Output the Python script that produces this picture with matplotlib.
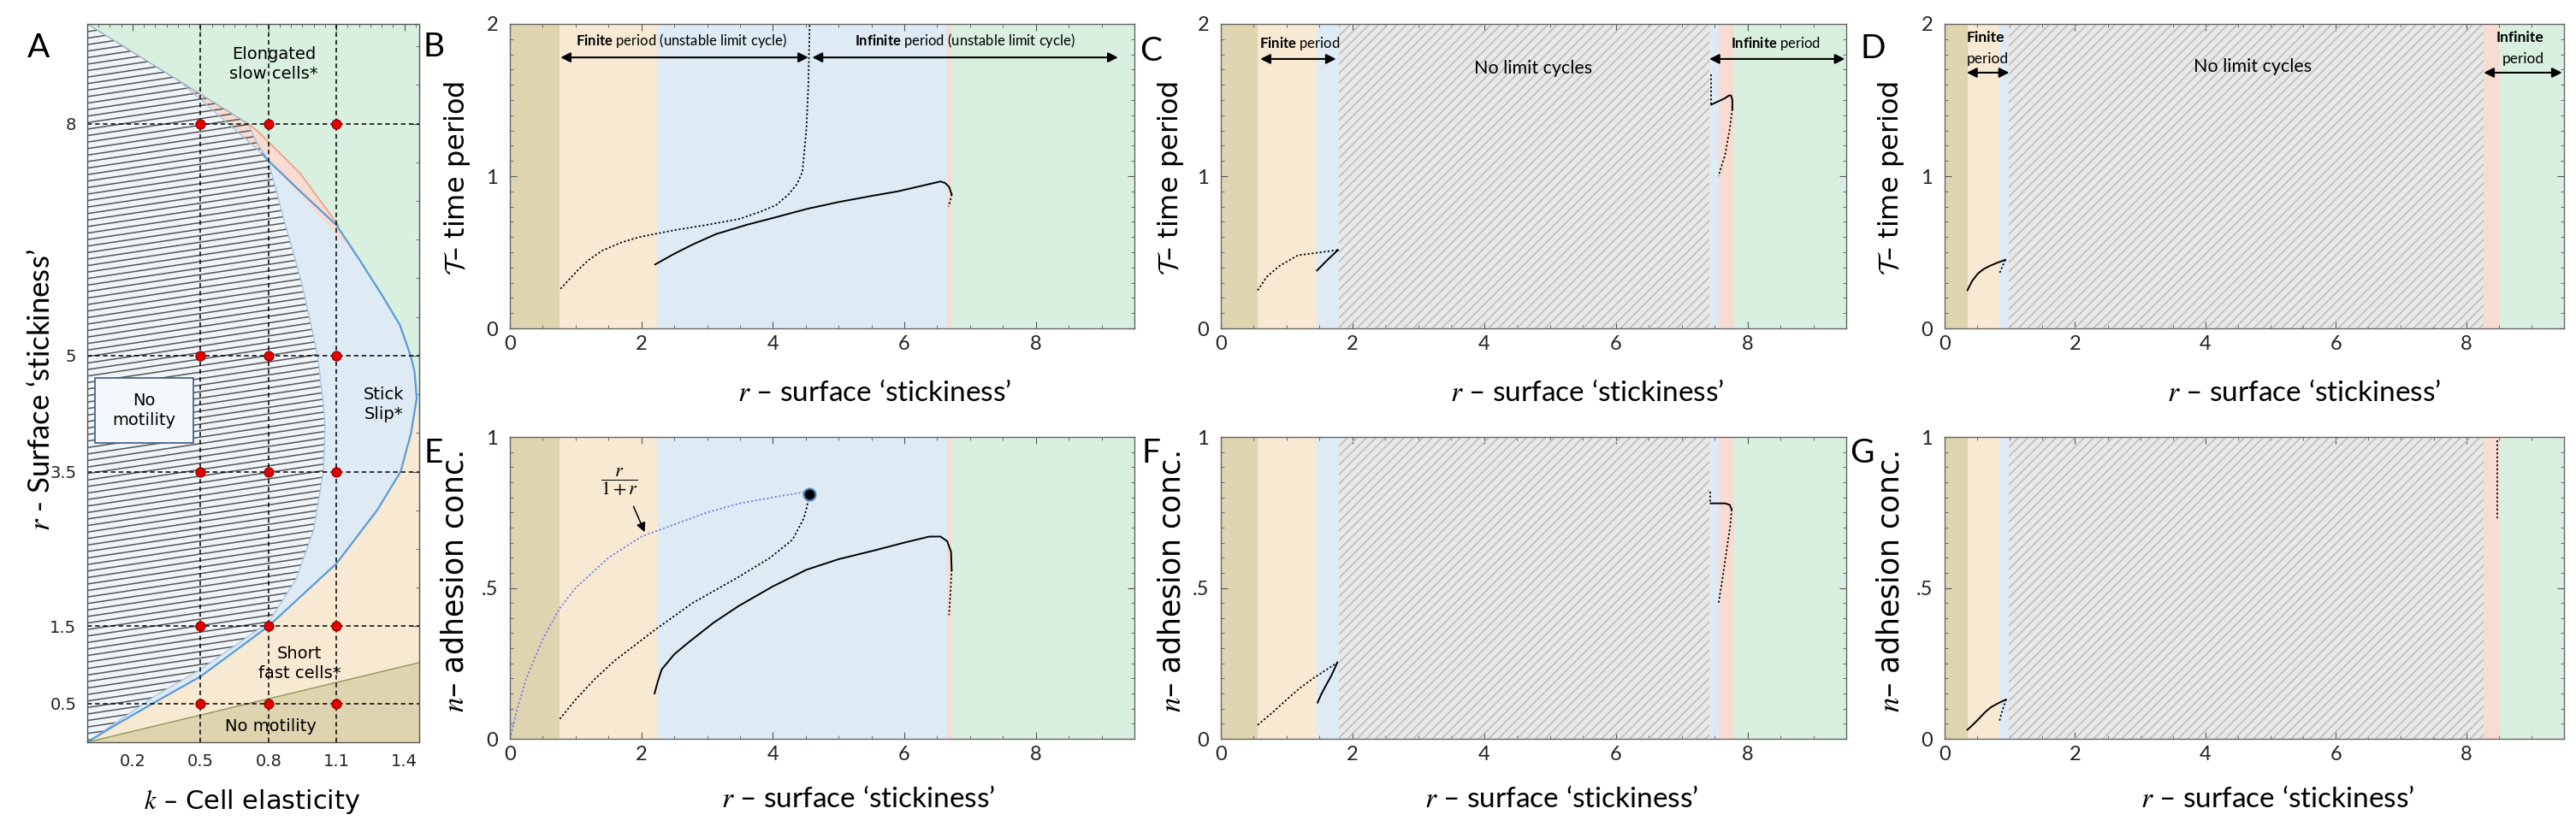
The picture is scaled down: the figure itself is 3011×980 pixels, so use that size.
import numpy as np
import matplotlib
matplotlib.use("Agg")
import matplotlib.pyplot as plt
from matplotlib.patches import Polygon, Rectangle
from matplotlib.ticker import MultipleLocator, FixedLocator, FixedFormatter

# ---------------- values ----------------
# panel A : phase diagram, k = cell elasticity, r = surface stickiness
k_ticks = [0.2, 0.5, 0.8, 1.1, 1.4]
k_labels = ["0.2", "0.5", "0.8", "1.1", "1.4"]
rA_ticks = [0.5, 1.5, 3.5, 5, 8]
rA_labels = ["0.5", "1.5", "3.5", "5", "8"]
sample_k = [0.5, 0.8, 1.1]
sample_r = [0.5, 1.5, 3.5, 5, 8]

# outer stick-slip boundary (blue curve)
stick_k = [0.0, 0.1, 0.2, 0.3, 0.5, 0.8, 1.1, 1.28, 1.384, 1.43, 1.455, 1.445,
           1.428, 1.38, 1.30, 1.2, 1.1, 0.95, 0.8, 0.773]
stick_r = [0.0, 0.18, 0.35, 0.52, 0.85, 1.5, 2.31, 3.0, 3.5, 4.0, 4.45, 4.8,
           5.0, 5.4, 5.79, 6.25, 6.69, 7.1, 7.52, 7.61]
# part of that curve hidden under the hatching
hidden_k = [0.773, 0.70, 0.41]
hidden_r = [7.61, 7.80, 8.545]
# edge of the hatched "no motility" region
hatch_k = [0.71, 0.748, 0.798, 0.865, 0.948, 1.018, 1.045, 1.05, 1.043, 1.0,
           0.923, 0.8, 0.5, 0.3, 0.0]
hatch_r = [8.0, 7.76, 7.54, 6.8, 5.93, 5.0, 4.3, 4.05, 3.5, 2.75,
           2.11, 1.55, 0.94, 0.6, 0.0]
top_k = [0.0, 0.71]
top_r = [9.29, 8.0]
orange_k = [0.71, 0.75, 0.94, 1.09, 1.11]
orange_r = [8.0, 7.91, 7.36, 6.76, 6.68]
nomot_k = [0.0, 1.466]
nomot_r = [0.0, 1.03]
short_top_r = [4.45, 4.0]   # top of the "short fast cells" region (nose, right edge)

# band edges along r for the period / adhesion panels
edges_BE = [0, 0.75, 2.24, 6.65, 6.72, 9.5]
edges_CF = [0, 0.56, 1.46, 1.79, 7.42, 7.56, 7.8, 9.5]
edges_DG = [0, 0.35, 0.84, 0.99, 8.27, 8.5, 9.5]

# B : period, k = 0.5
b_dot_r = [0.77, 0.9, 1.05, 1.2, 1.4, 1.7, 1.97, 2.5, 3.0, 3.5, 3.83, 4.05,
           4.24, 4.37, 4.45, 4.51, 4.54, 4.56]
b_dot_T = [0.26, 0.32, 0.39, 0.45, 0.51, 0.565, 0.60, 0.645, 0.68, 0.72, 0.77, 0.81,
           0.88, 0.95, 1.03, 1.31, 1.6, 2.0]
b_sol_r = [2.21, 2.5, 2.8, 3.14, 3.6, 4.0, 4.52, 5.0, 5.5, 5.9, 6.2, 6.45, 6.55,
           6.62, 6.68, 6.72]
b_sol_T = [0.42, 0.49, 0.555, 0.62, 0.68, 0.725, 0.785, 0.83, 0.87, 0.90, 0.93,
           0.955, 0.965, 0.955, 0.93, 0.88]
b_end_r = [6.72, 6.70, 6.67]
b_end_T = [0.88, 0.84, 0.80]

# C : period, k = 0.8
c_dot_r = [0.56, 0.7, 0.89, 1.17, 1.52, 1.78]
c_dot_T = [0.25, 0.34, 0.41, 0.48, 0.50, 0.515]
c_sol_r = [1.46, 1.62, 1.78]
c_sol_T = [0.38, 0.45, 0.515]
c_top_r = [7.45, 7.45]
c_top_T = [1.67, 1.47]
c_kink_r = [7.45, 7.55, 7.65, 7.72, 7.75, 7.77, 7.77]
c_kink_T = [1.47, 1.49, 1.51, 1.53, 1.53, 1.50, 1.44]
c_low_r = [7.77, 7.73, 7.66, 7.58, 7.56]
c_low_T = [1.44, 1.31, 1.14, 1.03, 1.0]

# D : period, k = 1.1
d_sol_r = [0.35, 0.42, 0.51, 0.6, 0.69, 0.8, 0.93]
d_sol_T = [0.25, 0.31, 0.36, 0.39, 0.41, 0.43, 0.45]
d_end_r = [0.93, 0.88, 0.84]
d_end_T = [0.45, 0.40, 0.36]

# E : adhesion, k = 0.5
e_ratio_r = [0.0, 0.1, 0.25, 0.5, 0.75, 1.0, 1.5, 2.0, 2.5, 3.0, 3.5, 4.0, 4.55]
e_ratio_n = [0.0, 0.09, 0.2, 0.33, 0.43, 0.5, 0.6, 0.67, 0.71, 0.75, 0.78, 0.8, 0.82]
e_dot_r = [0.76, 1.0, 1.3, 1.6, 1.9, 2.2, 2.78, 3.47, 3.96, 4.3, 4.47, 4.52, 4.55]
e_dot_n = [0.066, 0.13, 0.2, 0.26, 0.31, 0.36, 0.45, 0.535, 0.60, 0.66, 0.73, 0.77, 0.81]
e_sol_r = [2.2, 2.25, 2.31, 2.5, 2.72, 3.1, 3.48, 4.0, 4.51, 5.0, 5.56, 6.0, 6.38,
           6.55, 6.65, 6.71, 6.72]
e_sol_n = [0.15, 0.19, 0.23, 0.28, 0.32, 0.385, 0.44, 0.505, 0.56, 0.595, 0.625,
           0.65, 0.67, 0.67, 0.655, 0.62, 0.56]
e_end_r = [6.72, 6.70, 6.68]
e_end_n = [0.56, 0.48, 0.41]
e_point = (4.55, 0.81)

# F : adhesion, k = 0.8
f_dot_r = [0.56, 0.8, 1.0, 1.2, 1.4, 1.6, 1.77]
f_dot_n = [0.046, 0.09, 0.13, 0.168, 0.2, 0.228, 0.253]
f_sol_r = [1.47, 1.52, 1.58, 1.68, 1.77]
f_sol_n = [0.12, 0.145, 0.17, 0.21, 0.253]
f_top_r = [7.44, 7.44]
f_top_n = [0.82, 0.78]
f_kink_r = [7.44, 7.55, 7.66, 7.73, 7.76]
f_kink_n = [0.78, 0.78, 0.78, 0.775, 0.76]
f_low_r = [7.76, 7.74, 7.70, 7.62, 7.56]
f_low_n = [0.76, 0.71, 0.65, 0.53, 0.45]

# G : adhesion, k = 1.1
g_sol_r = [0.35, 0.45, 0.54, 0.63, 0.72, 0.84, 0.94]
g_sol_n = [0.03, 0.05, 0.07, 0.09, 0.106, 0.12, 0.13]
g_end_r = [0.94, 0.88, 0.84]
g_end_n = [0.13, 0.09, 0.058]
g_top_r = [8.48, 8.48]
g_top_n = [0.99, 0.73]

# ---------------- style ----------------
KHAKI = "#dfd4b0"
ORANGE = "#f8e9d3"
BLUE = "#deebf4"
PINK = "#f8dbd1"
GREEN = "#d9efdf"
GREY = "#e8e8e8"

W, H = 3011, 980
plt.rcParams["font.family"] = ["Lato", "DejaVu Sans"]
plt.rcParams["mathtext.fontset"] = "custom"
plt.rcParams["mathtext.rm"] = "Lato"
plt.rcParams["mathtext.bf"] = "Lato:bold"
plt.rcParams["mathtext.it"] = "Lato:italic"

fig = plt.figure(figsize=(W / 100, H / 100), dpi=100)


def box(l, t, r, b):
    return [l / W, 1 - b / H, (r - l) / W, (b - t) / H]


def hatch(ax, patch, slope_px, step_px, color, lw, z):
    pos = ax.get_position()
    x0, x1 = ax.get_xlim()
    y0, y1 = ax.get_ylim()
    sx = pos.width * W / (x1 - x0)
    sy = pos.height * H / (y1 - y0)
    xs = np.array([x0, x1])
    for c in np.arange(-slope_px * (x1 - x0) * sx - step_px, (y1 - y0) * sy + step_px, step_px):
        ys = y0 + (slope_px * (xs - x0) * sx + c) / sy
        ln, = ax.plot(xs, ys, color=color, lw=lw, zorder=z, solid_capstyle="butt")
        ln.set_clip_path(patch)


# ---------------- panel A ----------------
axA = fig.add_axes(box(102, 28, 490, 868))
axA.set_xlim(0, 1.466)
axA.set_ylim(0, 9.29)
axA.set_facecolor(GREEN)

axA.add_patch(Polygon([(0, 0), (1.466, 0), (1.466, short_top_r[1]),
                       (stick_k[10], short_top_r[0]), (0, short_top_r[0])],
                      closed=True, fc=ORANGE, ec="none", zorder=1))
axA.add_patch(Polygon(list(zip(stick_k, stick_r)) + [(0, 9.29)], closed=True,
                      fc=BLUE, ec="none", zorder=2))
hpoly = Polygon(list(zip(top_k, top_r)) + list(zip(hatch_k, hatch_r)), closed=True,
                fc="#f0f5f9", ec="none", zorder=3)
axA.add_patch(hpoly)
pink_pts = ([(hidden_k[-1], hidden_r[-1]), (top_k[1], top_r[1])] + list(zip(orange_k, orange_r))
            + list(zip(stick_k[::-1], stick_r[::-1]))[:5] + list(zip(hidden_k, hidden_r)))
axA.add_patch(Polygon(pink_pts, closed=True, fc=PINK, ec="none", zorder=4))
hatch(axA, hpoly, 0.15, 7.6, "#555555", 1.1, 5)
axA.add_patch(Polygon([(0, 0), (nomot_k[1], nomot_r[1]), (nomot_k[1], 0)], closed=True,
                      fc=KHAKI, ec="none", zorder=6))
axA.plot(nomot_k, nomot_r, color="#8d9a52", lw=1.0, zorder=7)
axA.plot(hatch_k, hatch_r, color="#a9c7e3", lw=1.0, zorder=7)
axA.plot(hidden_k, hidden_r, color="#a9c7e3", lw=1.0, zorder=7)
axA.plot(top_k, top_r, color="#98aec4", lw=1.0, zorder=7)
axA.plot(orange_k, orange_r, color="#ef9f80", lw=1.2, zorder=7)
axA.plot(stick_k, stick_r, color="#5b9bd5", lw=1.6, zorder=7)

for k in sample_k:
    axA.axvline(k, color="k", lw=1.1, ls=(0, (3.5, 2.5)), zorder=8)
for r in sample_r:
    axA.axhline(r, color="k", lw=1.1, ls=(0, (3.5, 2.5)), zorder=8)
kk, rr = np.meshgrid(sample_k, sample_r)
axA.plot(kk.ravel(), rr.ravel(), "o", ms=8, mfc="#e00000", mec="#8b0000", mew=0.8,
         ls="none", zorder=9)

axA.add_patch(Rectangle((0.034, 3.87), 0.434, 0.84, fc="#f3f8fb", ec="#3a5b85", lw=1.2, zorder=10))
tA = dict(family="DejaVu Sans", size=14, ha="center", va="center", zorder=11, linespacing=1.3)
axA.text(0.251, 4.29, "No\nmotility", **tA)
axA.text(0.824, 8.77, "Elongated\nslow cells*", **tA)
axA.text(1.31, 4.37, "Stick\nSlip*", **tA)
axA.text(0.937, 1.02, "Short\nfast cells*", **tA)
axA.text(0.811, 0.2, "No motility", **tA)

axA.xaxis.set_major_locator(FixedLocator(k_ticks))
axA.xaxis.set_major_formatter(FixedFormatter(k_labels))
axA.xaxis.set_minor_locator(MultipleLocator(0.05))
axA.yaxis.set_major_locator(FixedLocator(rA_ticks))
axA.yaxis.set_major_formatter(FixedFormatter(rA_labels))
axA.yaxis.set_minor_locator(MultipleLocator(0.5))
axA.tick_params(which="both", direction="in", top=True, right=True, colors="#555555",
                labelcolor="#222222", labelfontfamily="DejaVu Sans", labelsize=14)
axA.tick_params(which="major", length=6, width=0.8)
axA.tick_params(which="minor", length=3, width=0.6)
axA.tick_params(axis="x", pad=9)
axA.tick_params(axis="y", pad=9)
for s in axA.spines.values():
    s.set_color("#555555")
    s.set_linewidth(1.0)
    s.set_zorder(12)

fig.text(295 / W, 1 - 937 / H, "$k$ – Cell elasticity", family="DejaVu Sans", size=22,
         ha="center", va="center", math_fontfamily="stix")
fig.text(48 / W, 1 - 456 / H, "$r$ - Surface ‘stickiness’", size=25, rotation=90,
         ha="center", va="center", math_fontfamily="stix")


# ---------------- panels B - G ----------------
def panel(rect, edges, colors, ymax, yticks, ylabels):
    ax = fig.add_axes(box(*rect))
    ax.set_xlim(0, 9.5)
    ax.set_ylim(0, ymax)
    for a, b, c in zip(edges[:-1], edges[1:], colors):
        if c == "hatch":
            p = Rectangle((a, 0), b - a, ymax, fc=GREY, ec="none", zorder=1)
            ax.add_patch(p)
            hatch(ax, p, 1.0, 11, "#bdbdbd", 1.2, 2)
        else:
            ax.add_patch(Rectangle((a, 0), b - a, ymax, fc=c, ec="none", zorder=1))
    ax.xaxis.set_major_locator(FixedLocator([0, 2, 4, 6, 8]))
    ax.xaxis.set_minor_locator(MultipleLocator(0.5))
    ax.yaxis.set_major_locator(FixedLocator(yticks))
    ax.yaxis.set_major_formatter(FixedFormatter(ylabels))
    ax.yaxis.set_minor_locator(MultipleLocator(ymax / 20))
    ax.tick_params(which="both", direction="in", top=True, right=True, colors="#555555",
                   labelcolor="#222222", labelsize=17)
    ax.tick_params(which="major", length=6, width=0.8)
    ax.tick_params(which="minor", length=3, width=0.6)
    ax.tick_params(axis="x", pad=6)
    ax.tick_params(axis="y", pad=10)
    for s in ax.spines.values():
        s.set_color("#666666")
        s.set_linewidth(1.0)
        s.set_zorder(12)
    return ax


def curve(ax, x, y, style):
    if style == "solid":
        ax.plot(x, y, color="k", lw=1.4, zorder=5)
    else:
        ax.plot(x, y, color="k", lw=1.3, ls=(0, (1.2, 1.4)), zorder=5)


def arrow(ax, x0, x1, y):
    ax.annotate("", xy=(x1, y), xytext=(x0, y),
                arrowprops=dict(arrowstyle="<|-|>", color="k", lw=1.5, mutation_scale=17,
                                shrinkA=0, shrinkB=0), zorder=6)


cBE = [KHAKI, ORANGE, BLUE, PINK, GREEN]
cCF = [KHAKI, ORANGE, BLUE, "hatch", BLUE, PINK, GREEN]
cDG = [KHAKI, ORANGE, BLUE, "hatch", PINK, GREEN]
Tt, Tl = [0, 1, 2], ["0", "1", "2"]
Nt, Nl = [0, 0.5, 1], ["0", ".5", "1"]

axB = panel((596, 28, 1326, 384), edges_BE, cBE, 2, Tt, Tl)
axC = panel((1427, 28, 2158, 384), edges_CF, cCF, 2, Tt, Tl)
axD = panel((2273, 28, 2997, 384), edges_DG, cDG, 2, Tt, Tl)
axE = panel((596, 511, 1326, 864), edges_BE, cBE, 1, Nt, Nl)
axF = panel((1427, 511, 2158, 864), edges_CF, cCF, 1, Nt, Nl)
axG = panel((2273, 511, 2997, 864), edges_DG, cDG, 1, Nt, Nl)

curve(axB, b_dot_r, b_dot_T, "dot")
curve(axB, b_sol_r, b_sol_T, "solid")
curve(axB, b_end_r, b_end_T, "dot")
curve(axC, c_dot_r, c_dot_T, "dot")
curve(axC, c_sol_r, c_sol_T, "solid")
curve(axC, c_top_r, c_top_T, "dot")
curve(axC, c_kink_r, c_kink_T, "solid")
curve(axC, c_low_r, c_low_T, "dot")
curve(axD, d_sol_r, d_sol_T, "solid")
curve(axD, d_end_r, d_end_T, "dot")

axE.plot(e_ratio_r, e_ratio_n, color="#6f7fe8", lw=1.3, ls=(0, (1.2, 1.4)), zorder=5)
curve(axE, e_dot_r, e_dot_n, "dot")
curve(axE, e_sol_r, e_sol_n, "solid")
curve(axE, e_end_r, e_end_n, "dot")
axE.plot(*e_point, "o", ms=10, mfc="k", mec="#4f86b8", mew=1.6, zorder=7)
axE.text(1.67, 0.85, r"$\dfrac{r}{1+r}$", size=16, ha="center", va="center",
         math_fontfamily="stix", zorder=7)
axE.annotate("", xy=(2.05, 0.685), xytext=(1.88, 0.77),
             arrowprops=dict(arrowstyle="-|>", color="k", lw=1.1, mutation_scale=16,
                             shrinkA=0, shrinkB=0), zorder=7)
curve(axF, f_dot_r, f_dot_n, "dot")
curve(axF, f_sol_r, f_sol_n, "solid")
curve(axF, f_top_r, f_top_n, "dot")
curve(axF, f_kink_r, f_kink_n, "solid")
curve(axF, f_low_r, f_low_n, "dot")
curve(axG, g_sol_r, g_sol_n, "solid")
curve(axG, g_end_r, g_end_n, "dot")
curve(axG, g_top_r, g_top_n, "dot")

# annotations of the period panels
ann = dict(size=12, ha="center", va="center", zorder=7, math_fontfamily="custom")
axB.text(2.61, 1.89, r"$\mathbf{Finite}$ period (unstable limit cycle)", **ann)
axB.text(6.92, 1.89, r"$\mathbf{Infinite}$ period (unstable limit cycle)", **ann)
arrow(axB, 0.77, 4.54, 1.78)
arrow(axB, 4.6, 9.25, 1.78)
axC.text(1.2, 1.87, r"$\mathbf{Finite}$ period", **ann)
axC.text(8.43, 1.87, r"$\mathbf{Infinite}$ period", **ann)
arrow(axC, 0.6, 1.75, 1.77)
arrow(axC, 7.42, 9.48, 1.77)
axC.text(4.75, 1.71, "No limit cycles", size=15.5, ha="center", va="center", zorder=7)
axD.text(0.63, 1.91, "Finite", size=12.5, weight="bold", ha="center", va="center", zorder=7)
axD.text(0.66, 1.77, "period", size=12.5, ha="center", va="center", zorder=7)
axD.text(8.83, 1.91, "Infinite", size=12.5, weight="bold", ha="center", va="center", zorder=7)
axD.text(8.87, 1.77, "period", size=12.5, ha="center", va="center", zorder=7)
arrow(axD, 0.34, 0.99, 1.68)
arrow(axD, 8.27, 9.47, 1.68)
axD.text(4.72, 1.72, "No limit cycles", size=15.5, ha="center", va="center", zorder=7)

# axis titles
xl = "$r$ – surface ‘stickiness’"
for x, y in [(1022, 460), (1855, 460), (2693, 460), (1003, 935), (1825, 935), (2662, 935)]:
    fig.text(x / W, 1 - y / H, xl, size=24, ha="center", va="center", math_fontfamily="stix")
for x in [535, 1368, 2210]:
    fig.text(x / W, 1 - 208 / H, r"$\mathcal{T}$– time period", family="DejaVu Sans", size=23,
             rotation=90, ha="center", va="center", math_fontfamily="cm")
for x in [532, 1370, 2209]:
    fig.text(x / W, 1 - 680 / H, "$n$– adhesion conc.", family="DejaVu Sans", size=25,
             rotation=90, ha="center", va="center", math_fontfamily="stix")

for lab, x, y in [("A", 45, 56), ("B", 507, 55), ("C", 1345, 60), ("D", 2189, 57),
                  ("E", 507, 530), ("F", 1345, 530), ("G", 2176, 530)]:
    fig.text(x / W, 1 - y / H, lab, size=28, ha="center", va="center")

fig.savefig("out.png", dpi=100)
